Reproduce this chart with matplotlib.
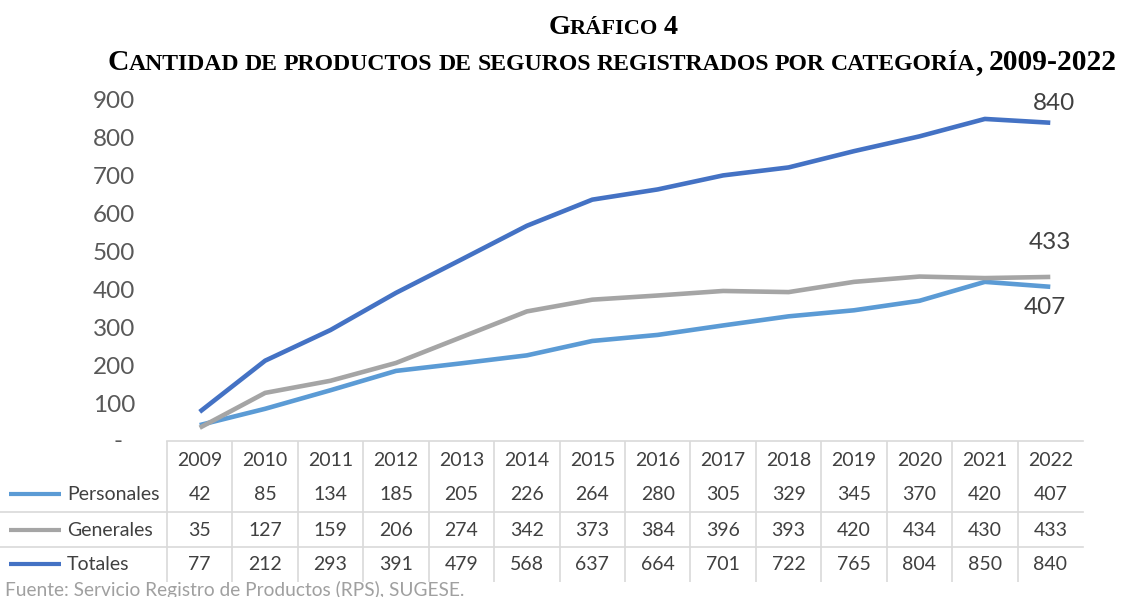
import matplotlib
matplotlib.use('Agg')
import matplotlib.pyplot as plt
import numpy as np

# Data (Gráfico 4)
years = [2009, 2010, 2011, 2012, 2013, 2014, 2015, 2016, 2017, 2018, 2019, 2020, 2021, 2022]
personales = [42, 85, 134, 185, 205, 226, 264, 280, 305, 329, 345, 370, 420, 407]
generales = [35, 127, 159, 206, 274, 342, 373, 384, 396, 393, 420, 434, 430, 433]
totales = [77, 212, 293, 391, 479, 568, 637, 664, 701, 722, 765, 804, 850, 840]
series_names = ['Personales', 'Generales', 'Totales']
colors = ['#5B9BD5', '#A5A5A5', '#4472C4']

title1 = 'Gráfico 4'
title2 = 'Cantidad de productos de seguros registrados por categoría, 2009-2022'
source = 'Fuente: Servicio Registro de Productos (RPS), SUGESE.'

plt.rcParams['font.family'] = ['Lato', 'DejaVu Sans']

fig = plt.figure(figsize=(11.22, 5.97), dpi=100)
W, H = 1122, 597
ax = fig.add_axes([167 / W, 1 - 441 / H, 916 / W, 341 / H])

x = np.arange(len(years))
all_series = [personales, generales, totales]
for vals, c in zip(all_series, colors):
    ax.plot(x, vals, color=c, lw=3.3, solid_joinstyle='round', solid_capstyle='butt')

ax.set_xlim(-0.5, len(years) - 0.5)
ax.set_ylim(0, 900)
ax.set_yticks(range(0, 1000, 100))
ax.set_yticklabels([''] + [str(v) for v in range(100, 1000, 100)])
ax.tick_params(axis='y', length=0, pad=23, labelsize=17.5, labelcolor='#595959')
ax.set_xticks([])
for s in ['top', 'right', 'left']:
    ax.spines[s].set_visible(False)
ax.spines['bottom'].set_color('#D9D9D9')
ax.spines['bottom'].set_linewidth(1.2)
ax.text(-0.0535, 0, '-', transform=ax.get_yaxis_transform(), ha='center', va='center',
        fontsize=17.5, color='#595959')

# data labels at the last point
last = len(years) - 1
ax.annotate(str(totales[-1]), (last, totales[-1]), xytext=(3, 14), textcoords='offset points',
            ha='center', va='center', fontsize=17.5, color='#404040')
ax.annotate(str(generales[-1]), (last, generales[-1]), xytext=(0, 25), textcoords='offset points',
            ha='center', va='center', fontsize=17.5, color='#404040')
ax.annotate(str(personales[-1]), (last, personales[-1]), xytext=(-4, -15), textcoords='offset points',
            ha='center', va='center', fontsize=17.5, color='#404040')

# data table under the chart
def yfrac(py):
    return (441 - py) / 341

def xfrac(px):
    return (px - 167) / 916

xt = ax.get_xaxis_transform()
grid = '#D9D9D9'
tsize = 14
for i, yr in enumerate(years):
    ax.text(i, yfrac(460), str(yr), transform=xt, ha='center', va='center', fontsize=tsize, color='#404040')
row_y = [494, 530, 564]
for name, vals, c, py in zip(series_names, all_series, colors, row_y):
    ax.plot([xfrac(9), xfrac(61)], [yfrac(py), yfrac(py)], transform=ax.transAxes, color=c,
            lw=3, clip_on=False, solid_capstyle='butt')
    ax.text(xfrac(67), yfrac(py), name, transform=ax.transAxes, ha='left', va='center',
            fontsize=tsize, color='#404040')
    for i, v in enumerate(vals):
        ax.text(i, yfrac(py), str(v), transform=xt, ha='center', va='center', fontsize=tsize, color='#404040')
for py in [512, 547]:
    ax.plot([xfrac(0), 1], [yfrac(py), yfrac(py)], transform=ax.transAxes, color=grid, lw=1.2, clip_on=False)
ax.vlines(np.arange(len(years)) - 0.5, yfrac(582), 0, transform=xt, colors=grid, lw=1.2, clip_on=False)

fig.text(5 / W, 1 - 590 / H, source, ha='left', va='center', fontsize=13.8, color='#A0A0A0')

# small-caps style title built from pieces
renderer = fig.canvas.get_renderer()
title_kw = dict(family='Liberation Serif', weight='bold', color='black', va='baseline', ha='left')

def runs(word):
    out = []
    for ch in word:
        big = not ch.islower()
        if out and out[-1][1] == big:
            out[-1][0] += ch.upper()
        else:
            out.append([ch.upper(), big])
    return out

def title_line(text, base_py, width_px, center_px, ratio=0.8):
    words = []
    for w in text.split(' '):
        words.append([(fig.text(0, 1 - base_py / H, s, **title_kw), big) for s, big in runs(w)])

    def layout(size):
        xpos, placed = 0, []
        for k, word in enumerate(words):
            if k:
                xpos += 0.2 * size * 100 / 72
            for t, big in word:
                t.set_fontsize(size if big else size * ratio)
                placed.append((t, xpos))
                xpos += t.get_window_extent(renderer).width
        return xpos, placed

    w0, _ = layout(20)
    total, placed = layout(20 * width_px / w0)
    x0 = center_px - total / 2
    for t, xp in placed:
        t.set_x((x0 + xp) / W)

title_line(title1, 34, 130, 613)
title_line(title2, 70, 1012, 612)

fig.savefig('out.png', dpi=100)
